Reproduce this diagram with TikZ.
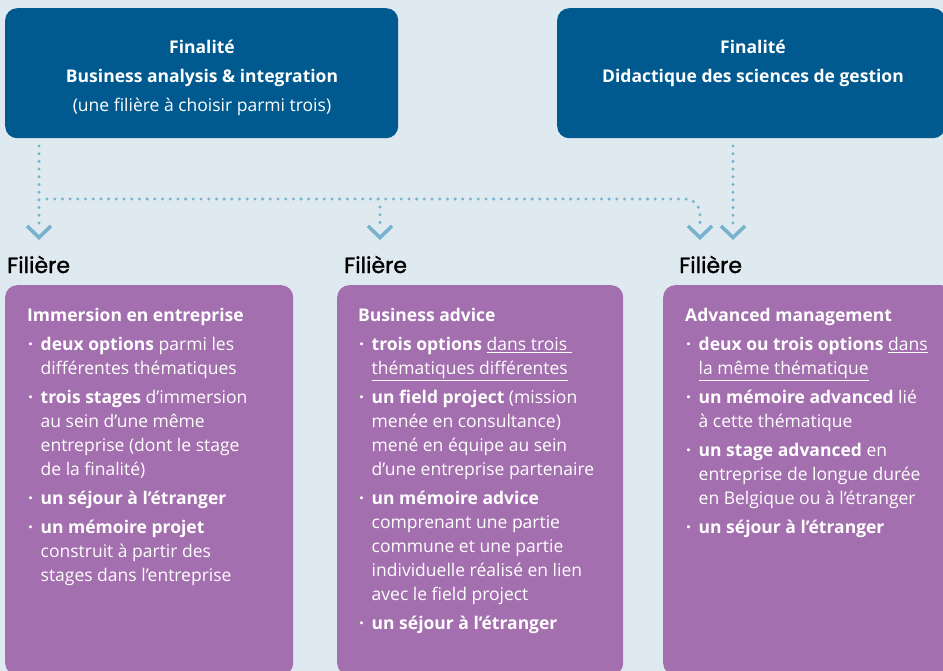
\documentclass[tikz,border=0pt]{standalone}
\usepackage{fontspec}
\setmainfont{Open Sans}[Ligatures=NoCommon]
\newfontfamily\filfont[FakeBold=1.3]{Poppins}
\usetikzlibrary{calc}
\definecolor{bgc}{HTML}{DFE9F0}
\definecolor{finc}{HTML}{005A8F}
\definecolor{purc}{HTML}{A36FAE}
\definecolor{dotc}{HTML}{78B2CD}
\newcommand\blt{\hspace*{1pt}\makebox[12.5pt][l]{\textbf{·}}}
\newcommand\ind{\hspace*{13.5pt}}
\begin{document}
\begin{tikzpicture}[x=1pt,y=-1pt,
  finbox/.style={fill=finc, rounded corners=12pt, draw=none, anchor=north west, inner sep=0pt},
  purbox/.style={fill=purc, rounded corners=12pt, draw=none, anchor=north west, inner sep=0pt},
  fintext/.style={text=white, align=center, font=\fontsize{17.5}{29}\selectfont, inner sep=0pt, anchor=north},
  purtext/.style={text=white, align=left, font=\fontsize{17.5}{24}\selectfont, inner sep=0pt, anchor=north west},
  filtext/.style={font=\filfont\fontsize{22}{24}\selectfont, text=black, inner sep=0pt, anchor=base west},
  dotline/.style={draw=dotc, line width=3.3pt, line cap=round, dash pattern=on 0pt off 7.7pt},
  chevron/.style={draw=dotc, line width=3.6pt, line cap=butt, line join=miter}
]
\useasboundingbox (0,0) rectangle (943,671);
\clip (0,0) rectangle (943,671);
\fill[bgc] (0,0) rectangle (943,671);

% top boxes
\node[finbox, minimum width=393pt, minimum height=130pt] (fa) at (5,8) {};
\node[finbox, minimum width=388pt, minimum height=130pt] (fd) at (557,8) {};
\node[fintext] (fat) at (202,40) {\textbf{Finalité}\\\textbf{Business analysis \& integration}\\(une filière à choisir parmi trois)};
\node[fintext] (fdt) at (753,40) {\textbf{Finalité}\\\textbf{Didactique des sciences de gestion}};

% purple boxes
\node[purbox, minimum width=288pt, minimum height=390pt] (pa) at (5,285) {};
\node[purbox, minimum width=286pt, minimum height=390pt] (pb) at (337,285) {};
\node[purbox, minimum width=290pt, minimum height=390pt] (pc) at (663,285) {};

% Filiere labels
\node[filtext] (la) at (7,273) {Filière};
\node[filtext] (lb) at (344,273) {Filière};
\node[filtext] (lc) at (679,273) {Filière};

% connectors
\coordinate (sL) at (39,146);
\coordinate (jL) at (47,199);
\coordinate (tL) at (39,229);
\coordinate (sM) at (380,207);
\coordinate (tM) at (380,229);
\coordinate (tC) at (700,229);
\coordinate (sR) at (733,146);
\coordinate (tR) at (733,229);
\draw[dotline] (sL) -- (tL);
\draw[dotline, rounded corners=15pt] (jL) -- (700,199) -- (tC);
\draw[dotline] (sM) -- (tM);
\draw[dotline] (sR) -- (tR);
\foreach \c in {tL,tM,tC,tR}{
  \draw[chevron] ($(\c)+(-12,-3)$) -- ($(\c)+(0,8.5)$) -- ($(\c)+(12,-3)$);
}

% texts in purple boxes
\node[purtext] (ta) at (27,308) {\textbf{Immersion en entreprise}\\[5pt]
\blt\textbf{deux options} parmi les\\
\ind différentes thématiques\\[5pt]
\blt\textbf{trois stages} d’immersion\\
\ind au sein d’une même\\
\ind entreprise (dont le stage\\
\ind de la finalité)\\[5pt]
\blt\textbf{un séjour à l’étranger}\\[5pt]
\blt\textbf{un mémoire projet}\\
\ind construit à partir des\\
\ind stages dans l’entreprise};

\node[purtext] (tb) at (358,308) {\textbf{Business advice}\\[5pt]
\blt\textbf{trois options} \underline{dans trois\ }\\
\ind\underline{thématiques différentes}\\[5pt]
\blt\textbf{un field project} (mission\\
\ind menée en consultance)\\
\ind mené en équipe au sein\\
\ind d’une entreprise partenaire\\[5pt]
\blt\textbf{un mémoire advice}\\
\ind comprenant une partie\\
\ind commune et une partie\\
\ind individuelle réalisé en lien\\
\ind avec le field project\\[5pt]
\blt\textbf{un séjour à l’étranger}};

\node[purtext] (tc) at (685,308) {\textbf{Advanced management}\\[5pt]
\blt\textbf{deux ou trois options} \underline{dans}\\
\ind\underline{la même thématique}\\[5pt]
\blt\textbf{un mémoire advanced} lié\\
\ind à cette thématique\\[5pt]
\blt\textbf{un stage advanced} en\\
\ind entreprise de longue durée\\
\ind en Belgique ou à l’étranger\\[5pt]
\blt\textbf{un séjour à l’étranger}};
\end{tikzpicture}
\end{document}
